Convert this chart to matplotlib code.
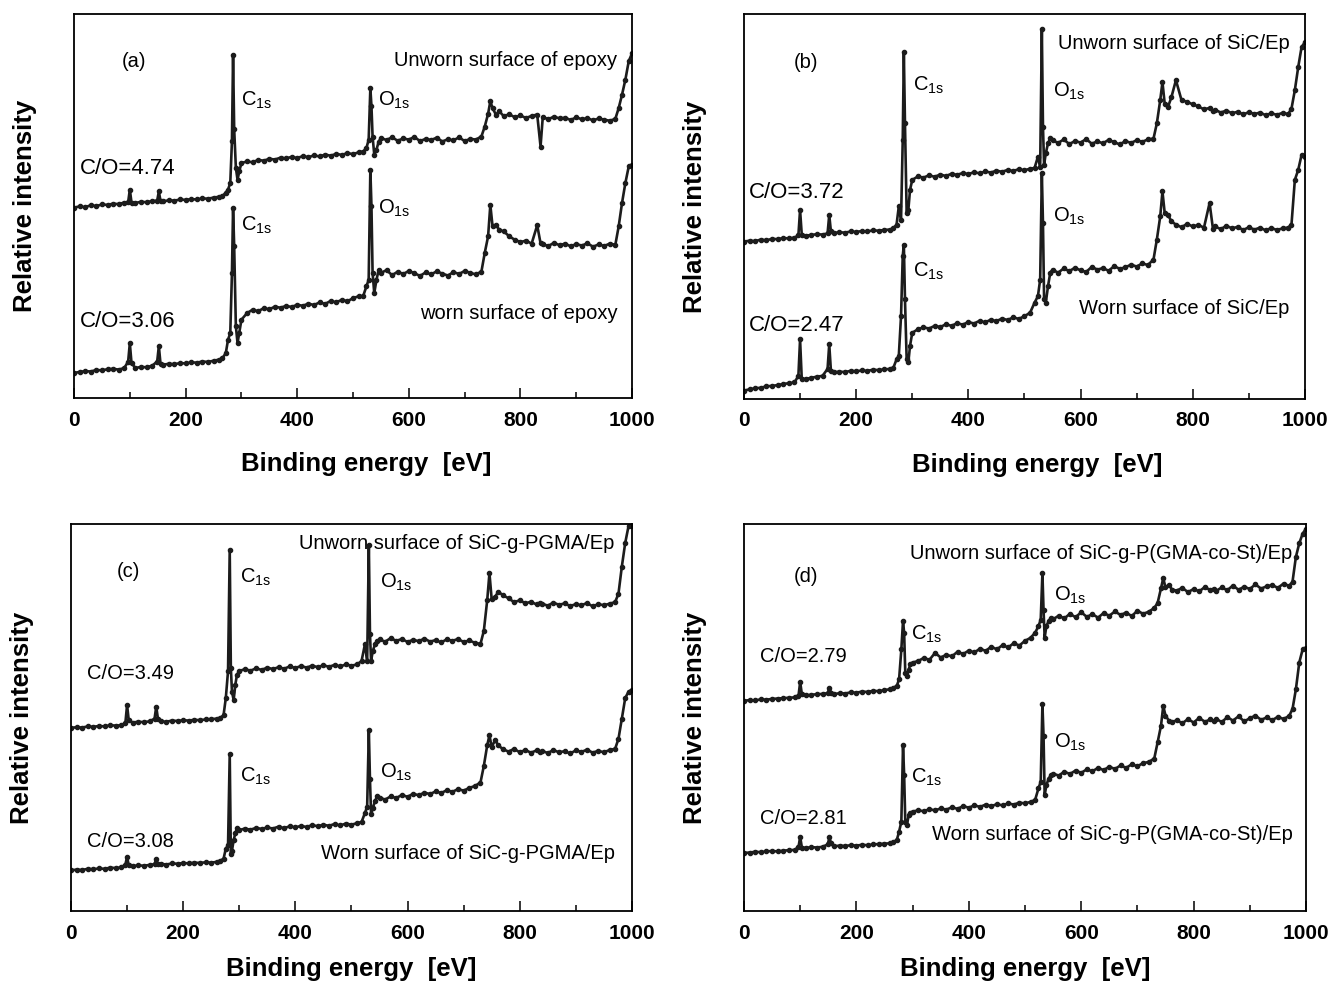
import matplotlib
matplotlib.use("Agg")
import matplotlib.pyplot as plt
from matplotlib.ticker import MultipleLocator

plt.rcParams['font.family'] = ['Liberation Sans', 'DejaVu Sans']

# binding energy grid (eV), denser around the core-level peaks and steps
energy = [0, 10, 20, 30, 40, 50, 60, 70, 80, 90,
          97, 100, 103,
          110, 120, 130, 140,
          149, 152, 155,
          160, 170, 180, 190, 200, 210, 220, 230, 240, 250, 260,
          266, 272, 276, 280, 283, 285, 287, 290, 293, 296,
          300, 310, 320, 330, 340, 350, 360, 370, 380, 390, 400,
          410, 420, 430, 440, 450, 460, 470, 480, 490, 500, 510,
          518, 524, 528, 531, 533, 535, 538, 542, 546,
          550, 560, 570, 580, 590, 600, 610, 620, 630, 640,
          650, 660, 670, 680, 690, 700, 710, 720, 730,
          736, 742, 746, 750, 756, 762,
          770, 780, 790, 800, 810, 820, 830,
          836,
          840, 850, 860, 870, 880, 890, 900, 910, 920, 930, 940, 950, 960, 970,
          976, 982, 988, 994, 1000]

# intensities in % of the panel height (spectra are offset for clarity)
a_unworn = [49.6, 49.9, 49.7, 50.2, 50.0, 50.4, 50.3, 50.6, 50.5, 50.9,
            51.0, 54.3, 50.9,
            50.8, 51.1, 51.0, 51.3,
            51.4, 53.8, 51.3,
            51.2, 51.5, 51.4, 51.7, 51.6, 51.8, 51.7, 52.0, 51.9, 52.2, 52.4,
            52.6, 53.5, 54.3, 56.0, 67.0, 89.4, 70.0, 60.0, 56.8, 59.0,
            61.2, 61.6, 61.4, 62.0, 61.8, 62.3, 62.1, 62.6, 62.4, 62.8, 62.5,
            63.0, 62.7, 63.2, 62.9, 63.4, 63.1, 63.6, 63.3, 63.8, 63.5, 64.0,
            64.2, 65.1, 67.3, 80.7, 76.0, 68.1, 63.4, 64.7, 66.8,
            67.7, 67.2, 67.9, 67.0, 67.6, 67.3, 68.0, 66.9, 67.5, 67.2,
            67.8, 66.8, 67.4, 67.1, 67.9, 66.9, 67.5, 67.3, 68.1,
            70.7, 74.0, 77.3, 75.5, 73.8, 74.7,
            73.4, 73.9, 73.1, 73.6, 72.9, 73.5, 73.8,
            65.5,
            73.2, 72.6, 73.3, 72.8, 73.0, 72.4, 73.1, 72.6, 72.9, 72.3, 72.8, 72.5, 72.2, 72.7,
            75.5, 79.0, 82.9, 87.7, 89.8]
a_worn = [6.5, 6.8, 7.0, 6.9, 7.3, 7.2, 7.5, 7.6, 7.4, 7.8,
          9.5, 14.3, 9.1,
          7.8, 8.1, 8.0, 8.4,
          9.5, 13.5, 8.9,
          8.7, 8.9, 8.8, 9.1, 9.0, 9.3, 9.2, 9.5, 9.4, 9.7, 10.0,
          10.4, 11.7, 15.2, 16.9, 32.6, 49.5, 39.5, 18.7, 14.3, 16.9,
          20.4, 22.1, 23.0, 22.6, 23.4, 23.1, 23.8, 23.5, 24.0, 23.7, 24.3,
          24.0, 24.6, 24.2, 24.9, 24.5, 25.3, 24.9, 25.6, 25.2, 26.0, 26.5,
          26.5, 29.1, 30.8, 59.5, 49.9, 32.6, 27.3, 30.8, 33.4,
          32.6, 33.3, 32.0, 32.9, 32.3, 33.1, 32.5, 31.8, 32.7, 32.2,
          33.0, 32.4, 31.9, 32.8, 32.3, 33.1, 32.6, 32.2, 32.9,
          37.8, 42.1, 50.3, 44.7, 45.1, 43.8,
          43.4, 42.1, 41.2, 40.6, 41.0, 40.2, 45.0,
          40.3,
          40.0, 39.6, 40.4, 39.8, 40.2, 39.5, 40.1, 39.7, 40.3, 39.4, 40.0, 39.6, 40.2, 39.9,
          44.7, 50.8, 56.0, 60.3, 60.8]

b_unworn = [40.9, 41.1, 41.0, 41.4, 41.2, 41.6, 41.5, 41.8, 41.7, 41.9,
            42.5, 49.1, 42.7,
            42.4, 42.6, 42.8, 42.7,
            43.0, 47.8, 43.5,
            43.1, 43.3, 43.2, 43.5, 43.4, 43.6, 43.5, 43.8, 43.7, 43.9, 44.0,
            44.3, 45.3, 50.0, 46.6, 67.2, 90.1, 71.6, 48.3, 49.1, 54.3,
            56.9, 57.8, 57.5, 58.1, 57.7, 58.3, 57.9, 58.5, 58.2, 58.7, 58.4,
            58.9, 58.6, 59.1, 58.8, 59.3, 59.0, 59.5, 59.2, 59.7, 59.4, 59.8,
            60.0, 62.9, 60.3, 96.0, 70.7, 60.8, 63.8, 66.4, 67.7,
            67.2, 66.5, 67.4, 66.2, 67.0, 66.6, 67.5, 66.3, 66.9, 66.4,
            67.3, 66.7, 66.1, 67.0, 66.5, 67.2, 66.8, 67.4, 67.6,
            71.6, 77.6, 82.3, 76.7, 75.9, 78.4,
            82.8, 77.6, 77.2, 76.5, 76.0, 75.2, 75.6,
            74.8,
            75.1, 74.4, 74.9, 74.2, 74.6, 73.9, 74.5, 74.0, 74.4, 73.7, 74.2, 73.8, 74.3, 74.0,
            75.4, 80.2, 86.2, 91.4, 92.7]
b_worn = [2.2, 2.5, 2.8, 2.9, 3.3, 3.4, 3.6, 3.9, 4.1, 4.3,
          6.0, 15.5, 5.2,
          5.2, 5.5, 5.8, 6.0,
          7.8, 14.2, 7.3,
          6.9, 7.1, 7.0, 7.3, 7.2, 7.4, 7.3, 7.6, 7.5, 7.7, 7.8,
          8.0, 10.3, 11.2, 21.6, 37.1, 40.1, 25.9, 10.3, 9.5, 13.8,
          17.2, 18.1, 18.6, 18.3, 19.0, 18.7, 19.4, 19.0, 19.7, 19.3, 20.0,
          19.6, 20.3, 19.9, 20.6, 20.2, 20.9, 20.5, 21.2, 20.8, 21.5, 22.4,
          25.0, 26.7, 31.0, 58.6, 45.7, 25.9, 25.0, 29.3, 32.8,
          33.6, 32.8, 33.9, 33.2, 34.1, 33.4, 33.0, 34.3, 33.6, 34.0,
          33.3, 34.5, 33.8, 34.2, 34.9, 34.4, 35.2, 34.8, 36.2,
          41.4, 47.4, 53.9, 48.3, 47.8, 46.1,
          45.3, 44.6, 45.5, 44.8, 45.2, 44.5, 50.9,
          44.2,
          44.8, 44.1, 45.0, 44.3, 44.7, 43.9, 44.6, 44.0, 44.5, 43.8, 44.4, 43.9, 44.3, 44.5,
          45.3, 56.9, 59.5, 63.4, 62.9]

c_unworn = [47.3, 47.5, 47.4, 47.7, 47.6, 47.8, 47.7, 48.0, 47.9, 48.0,
            48.6, 53.2, 49.3,
            48.7, 48.9, 48.8, 49.0,
            49.7, 52.8, 49.7,
            49.0, 48.9, 49.2, 49.1, 49.3, 49.2, 49.4, 49.3, 49.5, 49.6, 49.7,
            49.9, 50.6, 55.0, 62.0, 93.4, 62.8, 56.7, 54.5, 58.5, 61.1,
            62.0, 62.5, 62.1, 62.7, 62.3, 62.9, 62.5, 63.0, 62.6, 63.2, 62.8,
            63.3, 62.9, 63.4, 63.0, 63.5, 63.1, 63.6, 63.2, 63.7, 63.4, 63.7,
            64.6, 68.9, 64.6, 94.7, 71.6, 64.6, 67.2, 68.9, 69.8,
            70.2, 69.6, 70.5, 69.8, 70.3, 69.5, 70.1, 69.7, 70.4, 69.6,
            70.0, 69.4, 70.2, 69.8, 70.3, 69.5, 69.9, 69.3, 69.0,
            72.4, 80.3, 87.3, 80.5, 81.2, 82.5,
            81.6, 80.8, 79.8, 80.3, 79.5, 79.9, 79.2,
            79.6,
            79.4, 78.9, 79.7, 79.1, 79.5, 78.8, 79.3, 79.0, 79.6, 78.7, 79.3, 79.0, 79.4, 79.8,
            82.0, 89.0, 95.1, 99.5, 99.6]
c_worn = [10.5, 10.7, 10.6, 10.9, 10.8, 11.0, 10.9, 11.2, 11.1, 11.3,
          12.0, 14.0, 11.8,
          11.6, 11.8, 11.7, 11.9,
          12.1, 13.5, 12.1,
          12.2, 12.0, 12.3, 12.2, 12.4, 12.3, 12.5, 12.4, 12.6, 12.5, 12.7,
          13.0, 13.5, 16.1, 17.0, 40.6, 14.8, 15.6, 18.3, 20.1, 21.4,
          20.9, 21.3, 21.0, 21.5, 21.2, 21.6, 21.3, 21.8, 21.4, 21.9, 21.6,
          22.0, 21.7, 22.2, 21.9, 22.3, 22.0, 22.5, 22.1, 22.6, 22.3, 22.7,
          23.0, 25.3, 27.0, 46.7, 34.0, 25.0, 26.6, 28.4, 29.7,
          29.3, 28.8, 29.6, 29.2, 30.0, 29.5, 30.3, 29.9, 30.6, 30.2,
          30.9, 30.5, 31.2, 30.8, 31.5, 31.1, 31.8, 32.3, 33.2,
          37.5, 42.8, 45.4, 42.4, 44.1, 42.8,
          41.8, 41.2, 41.9, 41.0, 41.6, 40.9, 41.5,
          41.1,
          41.4, 40.8, 41.6, 41.0, 41.3, 40.7, 41.5, 41.1, 41.7, 40.9, 41.4, 41.0, 41.6, 41.9,
          44.5, 49.7, 55.0, 56.7, 57.2]

d_unworn = [54.3, 54.5, 54.4, 54.7, 54.6, 54.8, 54.9, 55.0, 55.1, 55.2,
            55.6, 59.2, 56.0,
            55.7, 55.9, 56.0, 56.1,
            56.3, 57.7, 56.4,
            56.0, 56.3, 56.2, 56.5, 56.4, 56.7, 56.6, 56.9, 56.8, 57.1, 57.3,
            57.7, 58.2, 59.9, 67.6, 75.0, 71.8, 61.6, 60.7, 62.4, 63.7,
            64.2, 64.6, 65.4, 64.9, 66.7, 65.5, 66.2, 65.8, 67.0, 66.4, 67.3,
            66.8, 67.8, 67.2, 68.3, 67.6, 68.7, 68.1, 69.2, 68.6, 69.8, 70.6,
            71.9, 73.6, 75.3, 87.3, 77.8, 70.6, 73.6, 74.9, 75.7,
            75.4, 76.3, 75.6, 76.8, 75.9, 77.2, 76.0, 76.7, 75.8, 77.0,
            76.3, 77.4, 76.5, 77.1, 76.2, 77.6, 76.8, 77.3, 78.3,
            79.6, 83.4, 86.0, 83.6, 84.3, 83.0,
            82.8, 83.5, 82.4, 83.2, 82.6, 83.7, 82.9,
            83.3,
            82.7, 83.6, 82.9, 84.1, 83.0, 83.8, 83.2, 84.4, 83.3, 83.9, 84.2, 83.5, 84.6, 84.0,
            85.1, 91.5, 95.0, 97.5, 98.8]
d_worn = [15.0, 15.1, 15.3, 15.2, 15.4, 15.5, 15.4, 15.6, 15.7, 15.8,
          16.5, 19.2, 16.4,
          16.3, 16.5, 16.4, 16.6,
          17.2, 19.0, 17.5,
          16.7, 16.9, 16.8, 17.0, 16.9, 17.1, 17.0, 17.2, 17.3, 17.4, 17.5,
          17.8, 18.4, 20.5, 23.1, 42.8, 35.1, 23.1, 22.2, 24.8, 25.2,
          25.7, 26.0, 25.8, 26.3, 26.0, 26.5, 26.2, 26.8, 26.4, 27.1, 26.7,
          27.3, 26.9, 27.5, 27.1, 27.6, 27.3, 27.8, 27.5, 28.0, 27.8, 28.2,
          28.7, 31.7, 33.4, 53.5, 45.3, 29.9, 32.5, 34.2, 35.1,
          35.5, 35.0, 36.0, 35.4, 36.3, 35.7, 36.6, 36.1, 37.0, 36.4,
          37.3, 36.7, 37.6, 37.0, 37.9, 37.4, 38.2, 38.5, 39.4,
          43.6, 47.9, 53.0, 50.5, 49.2, 48.8,
          49.3, 48.5, 49.6, 48.7, 49.9, 48.9, 49.5,
          49.1,
          49.7, 48.8, 50.1, 49.2, 50.3, 49.0, 49.8, 50.5, 49.4, 50.0, 49.3, 50.2, 49.6, 50.4,
          52.2, 57.3, 64.2, 67.6, 68.0]

C1S = r'C$_{\mathregular{1s}}$'
O1S = r'O$_{\mathregular{1s}}$'

# (text, x in eV, y in %, horizontal alignment, font size)
a_notes = [("(a)", 107, 87.7, 'center', 14.5),
           ("Unworn surface of epoxy", 974, 88.0, 'right', 14.5),
           (C1S, 299, 77.5, 'left', 14.5), (O1S, 544, 77.5, 'left', 14.5),
           ("C/O=4.74", 11, 59.7, 'left', 16),
           (C1S, 299, 45.0, 'left', 14.5), (O1S, 544, 49.5, 'left', 14.5),
           ("worn surface of epoxy", 974, 22.1, 'right', 14.5),
           ("C/O=3.06", 11, 20.0, 'left', 16)]
b_notes = [("(b)", 110, 87.5, 'center', 14.5),
           ("Unworn surface of SiC/Ep", 973, 92.2, 'right', 14.5),
           (C1S, 301, 81.5, 'left', 14.5), (O1S, 551, 79.8, 'left', 14.5),
           ("C/O=3.72", 9, 53.6, 'left', 16),
           (O1S, 551, 47.4, 'left', 14.5), (C1S, 301, 33.2, 'left', 14.5),
           ("Worn surface of SiC/Ep", 973, 23.4, 'right', 14.5),
           ("C/O=2.47", 9, 19.0, 'left', 16)]
c_notes = [("(c)", 103, 87.7, 'center', 14.5),
           ("Unworn surface of SiC-g-PGMA/Ep", 969, 95.0, 'right', 14.5),
           (C1S, 301, 86.3, 'left', 14.5), (O1S, 551, 85.0, 'left', 14.5),
           ("C/O=3.49", 28, 61.4, 'left', 14.5),
           (C1S, 301, 34.8, 'left', 14.5), (O1S, 551, 35.7, 'left', 14.5),
           ("C/O=3.08", 28, 18.0, 'left', 14.5),
           ("Worn surface of SiC-g-PGMA/Ep", 969, 14.8, 'right', 14.5)]
d_notes = [("(d)", 110, 86.4, 'center', 14.5),
           ("Unworn surface of SiC-g-P(GMA-co-St)/Ep", 976, 92.4, 'right', 14.5),
           (O1S, 551, 81.6, 'left', 14.5), (C1S, 298, 71.4, 'left', 14.5),
           ("C/O=2.79", 28, 65.8, 'left', 14.5),
           (O1S, 551, 43.6, 'left', 14.5), (C1S, 298, 34.6, 'left', 14.5),
           ("C/O=2.81", 28, 24.0, 'left', 14.5),
           ("Worn surface of SiC-g-P(GMA-co-St)/Ep", 977, 19.7, 'right', 14.5)]

panels = [
    ([0.0557, 0.5947, 0.4199, 0.3910], a_unworn, a_worn, a_notes, True),
    ([0.5598, 0.5937, 0.4221, 0.3921], b_unworn, b_worn, b_notes, True),
    ([0.0534, 0.0723, 0.4221, 0.3941], c_unworn, c_worn, c_notes, False),
    ([0.5598, 0.0723, 0.4229, 0.3941], d_unworn, d_worn, d_notes, False),
]

fig = plt.figure(figsize=(13.29, 9.82), dpi=100)

for rect, upper, lower, notes, top_row in panels:
    ax = fig.add_axes(rect)
    for y in (upper, lower):
        ax.plot(energy, y, color='#1c1c1c', lw=1.9, marker='o', ms=3.0,
                mfc='#1c1c1c', mec='#1c1c1c')
    for txt, x, y, ha, fs in notes:
        ax.text(x, y, txt, ha=ha, va='center', fontsize=fs)

    ax.set_xlim(0, 1000)
    ax.set_ylim(0, 100)
    ax.set_yticks([])
    ax.xaxis.set_major_locator(MultipleLocator(200))
    ax.xaxis.set_minor_locator(MultipleLocator(100))
    ax.tick_params(axis='x', which='major', direction='in', length=7, width=1.1,
                   pad=9, labelsize=15)
    ax.tick_params(axis='x', which='minor', direction='in', length=4, width=1.1)
    for lab in ax.get_xticklabels():
        lab.set_fontweight('bold')
    for sp in ax.spines.values():
        sp.set_linewidth(1.3)

    ax.set_xlabel('Binding energy  [eV]', fontsize=18.5, fontweight='bold')
    ax.set_ylabel('Relative intensity', fontsize=18.5, fontweight='bold')
    if top_row:
        ax.xaxis.set_label_coords(0.523, -0.14)
    else:
        ax.xaxis.set_label_coords(0.5, -0.12)
    ax.yaxis.set_label_coords(-0.066, 0.5)

fig.savefig('out.png', dpi=100)
